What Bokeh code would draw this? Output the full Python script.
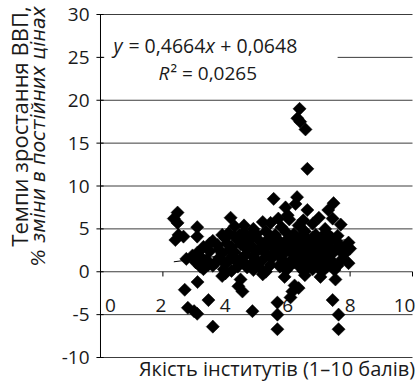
import numpy as np
from bokeh.plotting import figure
from bokeh.models import Label, BoxAnnotation, Range1d
from bokeh.core.properties import value
from bokeh.embed import file_html
from bokeh.resources import INLINE

# ---- data ----
x_vals = [
    2.47, 2.35, 2.47, 2.50, 2.66, 2.40, 3.10, 3.10, 2.75, 2.95, 3.05, 3.25,
    3.11, 2.70, 3.46, 2.80, 3.10, 3.00, 3.60, 4.49, 4.42, 4.55, 4.87, 5.67,
    5.67, 5.67, 6.09, 6.15, 6.22, 7.53, 7.44, 7.63, 7.63, 6.35, 5.90, 3.90,
    6.55, 7.05, 5.20, 4.00,
    6.38, 6.31, 6.40, 6.57, 6.63,
    5.55, 6.30, 6.25, 5.93, 6.63, 7.47, 7.30, 7.00, 7.44, 4.17, 6.00, 6.50,
    5.20, 5.45, 6.05, 4.10, 4.30, 5.70, 7.70, 7.20, 6.80, 4.90, 5.80, 6.35, 4.60,
    3.90, 4.60, 5.00, 5.30, 5.60, 5.95, 6.20, 6.55, 6.90, 7.25, 7.60,
    3.60, 4.00, 4.40, 4.80, 5.10, 5.40, 5.70, 6.00, 6.30, 6.60, 6.95, 7.30, 7.55, 7.95,
    3.30, 3.75, 4.20, 4.50, 4.85, 5.15, 5.50, 5.80, 6.10, 6.40, 6.70, 7.00, 7.35, 7.70,
    3.10, 3.50, 3.90, 4.30, 4.65, 5.00, 5.30, 5.60, 5.90, 6.20, 6.50, 6.80, 7.10, 7.45, 7.80,
    3.40, 3.80, 4.10, 4.50, 4.90, 5.20, 5.50, 5.85, 6.15, 6.45, 6.75, 7.05, 7.40, 7.75,
    3.60, 4.00, 4.40, 4.80, 5.10, 5.45, 5.75, 6.05, 6.35, 6.65, 6.95, 7.25, 7.60,
    4.20, 5.30, 5.95, 6.50, 7.10, 7.50, 3.30, 8.00, 7.95,
    5.70, 6.00, 6.30, 6.60, 6.90, 6.20, 6.60, 5.80, 7.20, 6.40, 6.70, 5.90,
    6.10, 6.80, 7.40, 5.30,
    5.55, 5.75, 6.05, 6.35, 6.65, 6.95, 7.25, 5.65, 5.95, 6.25, 6.55, 6.85,
    7.15, 5.50, 6.45, 7.10, 4.70, 4.40, 5.00, 4.60, 4.30, 5.25, 7.60, 7.85,
    6.00, 6.80, 4.90, 3.70,
    3.50, 3.80, 4.05, 4.25, 4.60, 3.95, 4.70, 4.15, 4.45, 3.45, 4.80, 3.20,
]
y_vals = [
    6.9, 6.2, 5.7, 4.3, 4.1, 3.7, 5.2, 4.1, 1.5, 1.9, 1.1, 1.6,
    -1.2, -2.1, -3.3, -4.2, -4.9, -4.6, -6.4, -0.9, -1.7, -2.3, -4.6, -3.6,
    -5.0, -6.7, -3.0, -2.3, -1.6, -0.9, -3.3, -5.0, -6.7, -1.9, -0.6, -0.5,
    -0.4, -0.6, -0.3, -0.2,
    19.0, 17.9, 17.5, 16.6, 12.0,
    8.5, 8.7, 7.9, 7.5, 7.2, 8.0, 7.2, 6.3, 6.2, 6.3, 6.6, 6.0,
    5.8, 5.7, 6.1, 4.5, 5.3, 6.2, 5.5, 5.0, 5.6, 5.0, 5.2, 5.4, 5.4,
    4.3, 4.6, 4.4, 4.7, 4.3, 4.6, 4.4, 4.7, 4.3, 4.5, 4.2,
    3.6, 3.9, 3.7, 3.8, 3.6, 3.9, 3.7, 3.8, 3.6, 3.9, 3.7, 3.8, 3.6, 3.4,
    2.9, 3.1, 2.9, 3.2, 3.0, 2.8, 3.1, 2.9, 3.2, 3.0, 2.8, 3.1, 2.9, 3.0,
    2.2, 2.4, 2.1, 2.3, 2.0, 2.3, 2.1, 2.4, 2.2, 2.0, 2.3, 2.1, 2.4, 2.2, 2.0,
    1.4, 1.6, 1.3, 1.5, 1.7, 1.4, 1.6, 1.3, 1.5, 1.7, 1.4, 1.6, 1.3, 1.5,
    0.7, 0.9, 0.6, 0.8, 0.5, 0.8, 0.6, 0.9, 0.7, 0.5, 0.8, 0.6, 0.7,
    0.1, 0.0, 0.2, 0.1, 0.0, 0.2, 0.3, 2.7, 1.0,
    2.6, 2.7, 2.5, 2.6, 2.5, 1.1, 1.0, 1.0, 1.1, 3.5, 3.3, 3.4,
    4.0, 4.0, 4.0, 3.3,
    2.0, 1.8, 2.5, 2.2, 1.9, 2.2, 1.8, 3.3, 3.0, 3.0, 3.3, 3.0,
    3.4, 4.0, 4.2, 4.1, 2.6, 1.0, 1.1, 3.5, 4.1, 2.6, 2.7, 2.5,
    0.4, 0.3, 0.2, 1.1,
    3.3, 2.6, 3.3, 1.8, 1.1, 0.3, 0.5, 2.6, 4.3, 0.8, 4.1, 0.6,
]
slope = 0.4664
intercept = 0.0648
x_ticks = [0, 2, 4, 6, 8, 10]
x_tick_labels = ["0", "2", "4", "6", "8", "10"]
y_ticks = [-10, -5, 0, 5, 10, 15, 20, 25, 30]
y_tick_labels = ["-10", "-5", "0", "5", "10", "15", "20", "25", "30"]
y_title_1 = "Темпи зростання ВВП,"
y_title_2 = "% змiни в постiйних цiнах"
x_title = "Якість інститутів (1–10 балів)"

FONT = "Open Sans"
FS = "19px"
TXT = "#1a1a1a"

# the frame spans the whole canvas; axes are drawn by hand so that the
# horizontal axis can cross at y = 0
p = figure(width=417, height=382, x_range=Range1d(-3.205, 10.16), y_range=Range1d(-12.915, 31.633),
           output_backend="svg", toolbar_location=None, x_axis_location=None, y_axis_location=None,
           min_border=0, min_border_left=0, min_border_right=0, min_border_top=0, min_border_bottom=0)
p.outline_line_color = None
p.background_fill_color = "white"
p.border_fill_color = "white"
p.grid.visible = False

n = len(y_ticks)
# horizontal gridlines
p.segment(x0=[x_ticks[0]] * n, x1=[x_ticks[-1]] * n, y0=y_ticks, y1=y_ticks,
          line_color="#3c3c3c", line_width=1)
# vertical axis + ticks
p.segment(x0=[0], x1=[0], y0=[y_ticks[0]], y1=[y_ticks[-1]], line_color="black", line_width=1)
p.segment(x0=[-0.13] * n, x1=[0.1] * n, y0=y_ticks, y1=y_ticks, line_color="black", line_width=1)
p.text(x=[0] * n, y=y_ticks, text=y_tick_labels, x_offset=-11, text_align="right",
       text_baseline="middle", text_font=value(FONT), text_font_size=FS, text_color=TXT)

# x tick labels on the zero line (drawn beneath the markers)
p.text(x=x_ticks, y=[0] * len(x_ticks), text=x_tick_labels,
       x_offset=[10, -2, 0, 0, 0, -8], y_offset=34,
       text_align="center", text_baseline="middle",
       text_font=value(FONT), text_font_size=FS, text_color=TXT)
tk = x_ticks[1:]
p.segment(x0=tk, y0=[0] * len(tk), x1=tk, y1=[-0.55] * len(tk), line_color="black", line_width=1)

# markers
p.scatter(x_vals, y_vals, marker="square", angle=np.pi / 4, size=9.3,
          fill_color="black", line_color="black", line_width=0.5)

# trend line
tx = np.array([min(x_vals), max(x_vals)])
p.line(tx, slope * tx + intercept, line_color="black", line_width=1)

# white box behind the equation (hides gridline)
p.add_layout(BoxAnnotation(left=0.12, right=7.6, bottom=22.5, top=28.5,
                           fill_color="white", fill_alpha=1.0, line_color=None))

eq_x = 0.417
eq_y = 26.385
eq_parts = [("y", "italic", 0), ("= 0,4664", "normal", 14.9), ("x", "italic", 91.9), ("+ 0,0648", "normal", 106.8)]
for t, st, off in eq_parts:
    p.add_layout(Label(x=eq_x, y=eq_y, x_offset=off, text=t, text_font=FONT, text_font_size="19.5px",
                       text_font_style=st, text_color=TXT, text_baseline="alphabetic"))
r_x = 1.859
r_y = 23.236
for t, st, off in [("R", "italic", 0), ("² = 0,0265", "normal", 12)]:
    p.add_layout(Label(x=r_x, y=r_y, x_offset=off, text=t, text_font=FONT, text_font_size="19px",
                       text_font_style=st, text_color=TXT, text_baseline="alphabetic"))

# axis titles
p.add_layout(Label(x=-2.6, y=16.94, text=y_title_1, angle=np.pi / 2, text_align="center",
                   text_baseline="middle", text_font=FONT, text_font_size="22px", text_color=TXT))
p.add_layout(Label(x=-1.99, y=15.77, text=y_title_2, angle=np.pi / 2, text_align="center",
                   text_baseline="middle", text_font="DejaVu Sans", text_font_size="19px",
                   text_font_style="italic", text_color=TXT))
p.add_layout(Label(x=5.66, y=-11.3, text=x_title, text_align="center",
                   text_baseline="middle", text_font=FONT, text_font_size="20px", text_color=TXT))

open("out.html", "w").write(file_html(p, INLINE))
